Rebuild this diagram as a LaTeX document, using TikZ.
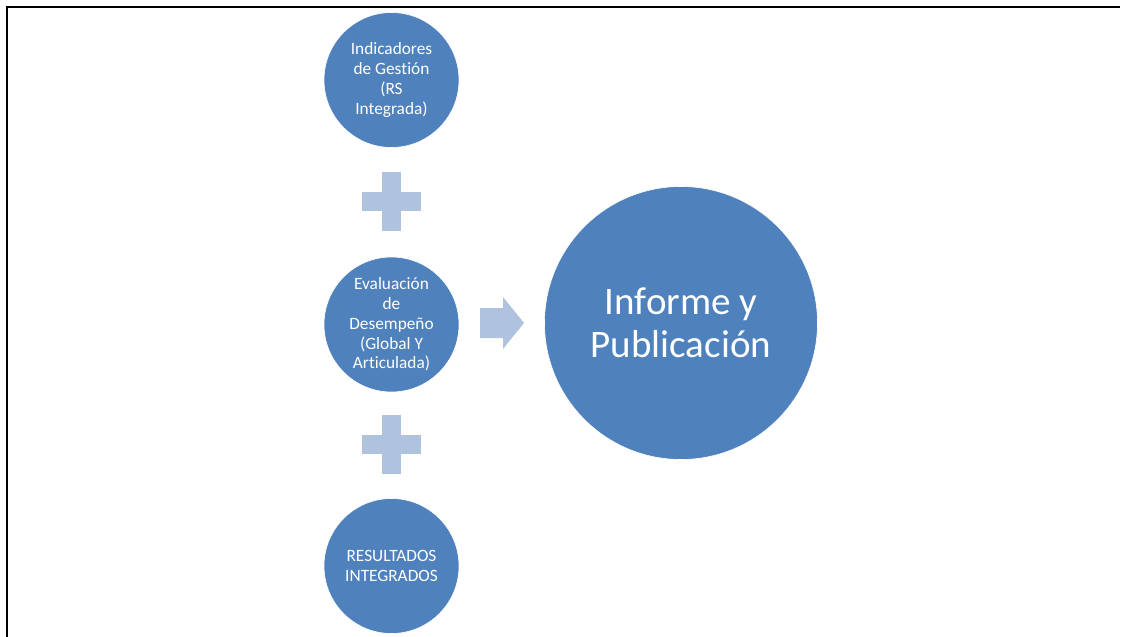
\documentclass[tikz,border=0pt]{standalone}
\usepackage{fontspec}
\setmainfont{Carlito}[RawFeature={-liga;-clig;-calt;-dlig}]
\definecolor{bubble}{HTML}{4F81BD}
\definecolor{sign}{HTML}{B0C3DE}
\begin{document}
\begin{tikzpicture}[x=1pt,y=-1pt,
  bubble/.style={circle,fill=bubble,draw=white,line width=0.6pt,inner sep=0pt,
    text=white,align=center,font=\fontsize{17.3}{19.8}\selectfont},
  small/.style={bubble,minimum size=135pt},
  big/.style={bubble,minimum size=273pt,font=\fontsize{39}{43}\selectfont}]
\useasboundingbox (0,0) rectangle (1125,637);
% frame (top and left edges only)
\draw[line width=2.6pt] (7,637) -- (7,7) -- (1120,7);

\node[small] (ind) at (391.5,80) {Indicadores\\de Ges\kern0pt tión\\(RS\\Integrada)};
\node[small] (eva) at (391.5,324.5) {Evaluación\\de\\Desempeño\\(Global Y\\Ar\kern0pt ticulada)};
\node[small] (res) at (391.5,566) {RESULTADOS\\INTEGRADOS};
\node[big] (inf) at (681,323) {Informe y\\Publicación};

% plus signs between the bubbles
\coordinate (p1) at (391.5,201.5);
\coordinate (p2) at (391.5,444);
\foreach \p in {p1,p2}{
  \fill[sign] ([xshift=-9.5pt,yshift=-29.5pt]\p) rectangle ([xshift=9.5pt,yshift=29.5pt]\p);
  \fill[sign] ([xshift=-29.5pt,yshift=-9.5pt]\p) rectangle ([xshift=29.5pt,yshift=9.5pt]\p);
}
% arrow towards the result
\coordinate (ar) at (480,323);
\fill[sign] (ar) ++(0,-15) -- ++(23,0) -- ++(0,-11) -- ++(21,26) -- ++(-21,26)
  -- ++(0,-11) -- ++(-23,0) -- cycle;
\end{tikzpicture}
\end{document}
